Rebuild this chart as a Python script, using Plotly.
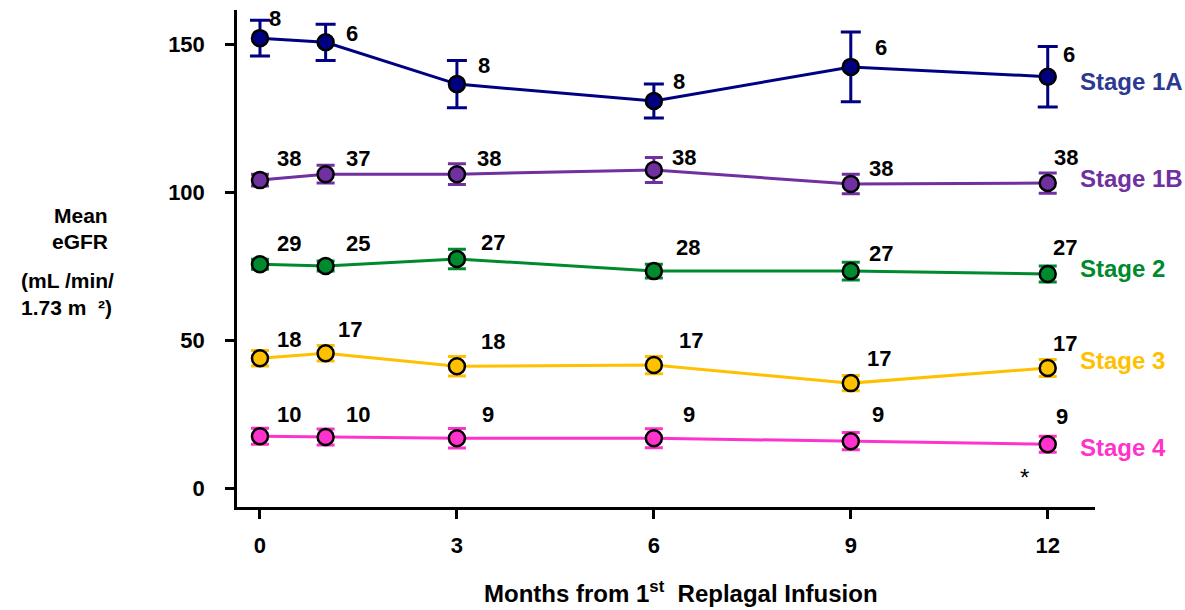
import plotly.graph_objects as go

# Months after the first infusion
months = [0, 1, 3, 6, 9, 12]

# Mean eGFR (mL/min/1.73 m²) by CKD stage
stage_names = ["Stage 1A", "Stage 1B", "Stage 2", "Stage 3", "Stage 4"]
egfr_1a = [152.0, 150.6, 136.5, 130.8, 142.3, 139.0]
egfr_1b = [104.1, 106.1, 106.1, 107.5, 102.8, 103.1]
egfr_2 = [75.7, 75.1, 77.5, 73.4, 73.4, 72.4]
egfr_3 = [44.0, 45.7, 41.3, 41.7, 35.6, 40.7]
egfr_4 = [17.7, 17.4, 17.0, 17.0, 16.0, 15.0]

# Standard errors
se_1a = [6.0, 6.1, 8.0, 5.7, 11.8, 10.2]
se_1b = [2.0, 3.0, 3.5, 4.2, 3.3, 3.4]
se_2 = [1.7, 1.7, 3.3, 2.3, 3.0, 2.7]
se_3 = [2.6, 2.6, 3.3, 2.9, 2.6, 2.9]
se_4 = [2.7, 2.7, 3.3, 3.2, 2.9, 2.7]

# Patients contributing at each visit
n_1a = [8, 6, 8, 8, 6, 6]
n_1b = [38, 37, 38, 38, 38, 38]
n_2 = [29, 25, 27, 28, 27, 27]
n_3 = [18, 17, 18, 17, 17, 17]
n_4 = [10, 10, 9, 9, 9, 9]

y_ticks = [0, 50, 100, 150]
x_ticks = [0, 3, 6, 9, 12]

series = [
    (stage_names[0], egfr_1a, se_1a, n_1a),
    (stage_names[1], egfr_1b, se_1b, n_1b),
    (stage_names[2], egfr_2, se_2, n_2),
    (stage_names[3], egfr_3, se_3, n_3),
    (stage_names[4], egfr_4, se_4, n_4),
]

line_colors = ["#000080", "#7030A0", "#008A2E", "#FFC000", "#FF33CC"]
name_colors = ["#2B3990", "#7030A0", "#008A2E", "#FFC000", "#FF33CC"]
cap_widths = [10, 9, 9, 9, 9]

# pixel offsets of the n labels relative to each point
label_dx = [
    [15, 26, 27, 25, 30, 21],
    [29, 32, 32, 30, 30, 18],
    [29, 32, 36, 34, 30, 17],
    [29, 24, 36, 37, 28, 17],
    [29, 32, 31, 35, 27, 14],
]
label_dy = [
    [20, 9, 19, 19, 19, 22],
    [22, 16, 16, 13, 15, 26],
    [21, 23, 16, 24, 18, 27],
    [19, 24, 25, 25, 25, 25],
    [22, 23, 24, 24, 27, 28],
]
name_dy = [-5, 5, 6, 8, -3]

FONT = "Liberation Sans, Arial, sans-serif"
W, H = 1185, 610
ml, mr, mt, mb = 237, 90, 10, 103


def to_paper(px, py):
    return (px - ml) / (W - ml - mr), (H - mb - py) / (H - mt - mb)


fig = go.Figure()
annotations = []
for i, (name, vals, se, ns) in enumerate(series):
    fig.add_trace(go.Scatter(
        x=months, y=vals, mode="lines+markers", name=name,
        line=dict(color=line_colors[i], width=3),
        marker=dict(symbol="circle", size=16, color=line_colors[i],
                    line=dict(color="black", width=2.5)),
        error_y=dict(type="data", array=se, visible=True,
                     color=line_colors[i], thickness=3, width=cap_widths[i]),
        showlegend=False,
    ))
    for j, m in enumerate(months):
        annotations.append(dict(
            x=m, y=vals[j], xref="x", yref="y", text=f"<b>{ns[j]}</b>",
            showarrow=False, xshift=label_dx[i][j], yshift=label_dy[i][j],
            font=dict(family=FONT, size=22, color="black"),
        ))
    annotations.append(dict(
        x=months[-1], y=vals[-1], xref="x", yref="y", text=f"<b>{name}</b>",
        showarrow=False, xanchor="left", xshift=30, yshift=name_dy[i],
        font=dict(family=FONT, size=24, color=name_colors[i]),
    ))

# marker for the Stage 4 twelve-month visit
annotations.append(dict(
    x=months[-1], y=egfr_4[-1], xref="x", yref="y", text="*",
    showarrow=False, xshift=-23, yshift=-33,
    font=dict(family=FONT, size=24, color="black"),
))

# y-axis title, one line per annotation
ytitle_lines = ["Mean", "eGFR", "(mL /min/", "1.73 m  ²)"]
ytitle_px = [81, 80, 67, 66]
ytitle_py = [215, 242, 280, 307]
for t, px, py in zip(ytitle_lines, ytitle_px, ytitle_py):
    ax, ay = to_paper(px, py)
    annotations.append(dict(
        x=ax, y=ay, xref="paper", yref="paper",
        text=f"<b>{t}</b>", showarrow=False, xanchor="center", yanchor="middle",
        font=dict(family=FONT, size=21, color="black"),
    ))

# x-axis title
tx, ty = to_paper(681, 592)
annotations.append(dict(
    x=tx, y=ty, xref="paper", yref="paper",
    text="<b>Months from 1<sup>st</sup>  Replagal Infusion</b>",
    showarrow=False, xanchor="center", yanchor="middle",
    font=dict(family=FONT, size=24, color="black"),
))

fig.update_layout(
    width=W, height=H,
    margin=dict(l=ml, r=mr, t=mt, b=mb, pad=0),
    paper_bgcolor="white", plot_bgcolor="white",
    annotations=annotations,
    xaxis=dict(
        range=[-0.35, 12.72], tickvals=x_ticks,
        ticktext=[f"<b>{v}</b>" for v in x_ticks],
        showline=True, linecolor="black", linewidth=2.5,
        ticks="outside", ticklen=9, tickwidth=2.5, tickcolor="black",
        showgrid=False, zeroline=False, ticklabelstandoff=8,
        tickfont=dict(family=FONT, size=22, color="black"),
    ),
    yaxis=dict(
        range=[-6.2, 161.5], tickvals=y_ticks,
        ticktext=[f"<b>{v}</b>" for v in y_ticks],
        showline=True, linecolor="black", linewidth=2.5,
        ticks="outside", ticklen=9, tickwidth=2.5, tickcolor="black",
        showgrid=False, zeroline=False, ticklabelstandoff=16,
        tickfont=dict(family=FONT, size=22, color="black"),
    ),
)

fig.write_html("out.html")
